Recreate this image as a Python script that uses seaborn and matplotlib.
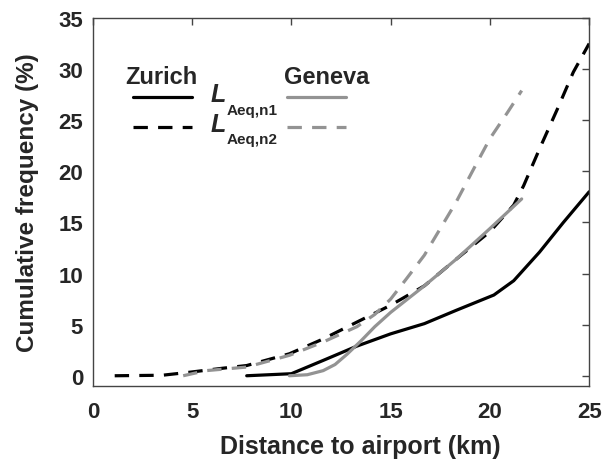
import matplotlib
matplotlib.use("Agg")
import matplotlib.pyplot as plt
import seaborn as sns
import pandas as pd
from matplotlib.lines import Line2D

# Data
zurich_n1_x = [7.75, 10.0, 11.6, 13.3, 15.0, 16.7, 18.3, 20.2, 21.2, 22.5, 23.7, 25.0]
zurich_n1_y = [0.0, 0.2, 1.5, 2.9, 4.1, 5.1, 6.4, 7.9, 9.3, 12.1, 15.0, 18.0]

zurich_n2_x = [1.1, 3.5, 4.9, 6.6, 7.75, 9.9, 11.6, 13.3, 15.0, 16.7, 18.3, 20.0, 21.2, 21.7, 22.5, 23.4, 24.2, 25.0]
zurich_n2_y = [0.0, 0.05, 0.35, 0.75, 1.0, 2.15, 3.6, 5.25, 6.9, 8.8, 11.4, 14.1, 16.7, 18.6, 22.2, 26.1, 29.7, 32.5]

geneva_n1_x = [9.9, 10.8, 11.6, 12.2, 12.8, 13.5, 14.2, 15.0, 16.7, 18.3, 20.0, 21.6]
geneva_n1_y = [0.0, 0.1, 0.5, 1.1, 2.1, 3.4, 4.8, 6.2, 8.8, 11.4, 14.4, 17.3]

geneva_n2_x = [4.55, 5.7, 7.75, 9.9, 11.6, 13.3, 14.2, 15.0, 15.8, 16.7, 17.5, 18.3, 19.2, 20.0, 20.9, 21.6]
geneva_n2_y = [0.0, 0.5, 0.85, 2.0, 3.3, 4.8, 6.0, 7.5, 9.5, 11.8, 14.4, 17.0, 20.3, 23.2, 25.8, 27.9]

x_ticks = [0, 5, 10, 15, 20, 25]
y_ticks = [0, 5, 10, 15, 20, 25, 30, 35]

sns.set_style("white")
plt.rcParams['font.family'] = ['Liberation Sans', 'DejaVu Sans']
plt.rcParams['font.weight'] = 'bold'

BLACK = '#000000'
GRAY = '#939393'
DASH = (0, (4.5, 3.2))
LW = 2.3

fig = plt.figure(figsize=(6.15, 4.64), dpi=100)
ax = fig.add_axes([0.151, 0.166, 0.807, 0.793])

series = [
    (zurich_n1_x, zurich_n1_y, BLACK, '-'),
    (zurich_n2_x, zurich_n2_y, BLACK, DASH),
    (geneva_n1_x, geneva_n1_y, GRAY, '-'),
    (geneva_n2_x, geneva_n2_y, GRAY, DASH),
]
for xs, ys, col, ls in series:
    df = pd.DataFrame({'x': xs, 'y': ys})
    sns.lineplot(data=df, x='x', y='y', ax=ax, color=col, linestyle=ls, lw=LW)

ax.set_xlim(0, 25)
ax.set_ylim(-1, 35)
ax.set_xticks(x_ticks)
ax.set_yticks(y_ticks)
ax.tick_params(direction='in', top=True, right=True, length=5, width=1,
               color='#444444', labelsize=16)
ax.tick_params(axis='x', pad=11)
ax.tick_params(axis='y', pad=7)
for lab in ax.get_xticklabels() + ax.get_yticklabels():
    lab.set_fontweight('bold')
for sp in ax.spines.values():
    sp.set_color('#444444')
    sp.set_linewidth(1.0)

ax.set_xlabel('Distance to airport (km)', fontsize=18, fontweight='bold')
ax.xaxis.set_label_coords(0.538, -0.13)
ax.set_ylabel('Cumulative frequency (%)', fontsize=17.5, fontweight='bold', labelpad=14)

# custom legend
tr = ax.transAxes
ax.text(0.139, 0.842, 'Zurich', transform=tr, ha='center', va='center', fontsize=17, fontweight='bold')
ax.text(0.472, 0.842, 'Geneva', transform=tr, ha='center', va='center', fontsize=17, fontweight='bold')
ax.add_line(Line2D([0.081, 0.200], [0.785, 0.785], transform=tr, color=BLACK, lw=LW))
ax.add_line(Line2D([0.081, 0.200], [0.704, 0.704], transform=tr, color=BLACK, lw=LW, linestyle=DASH))
ax.add_line(Line2D([0.391, 0.510], [0.785, 0.785], transform=tr, color=GRAY, lw=LW))
ax.add_line(Line2D([0.391, 0.510], [0.704, 0.704], transform=tr, color=GRAY, lw=LW, linestyle=DASH))
for yy, sub in [(0.785, 'Aeq,n1'), (0.704, 'Aeq,n2')]:
    ax.text(0.238, yy + 0.008, 'L', transform=tr, ha='left', va='center', fontsize=18,
            fontweight='bold', fontstyle='italic')
    ax.text(0.270, yy - 0.034, sub, transform=tr, ha='left', va='center', fontsize=11,
            fontweight='bold')

fig.savefig('out.png', dpi=100)
